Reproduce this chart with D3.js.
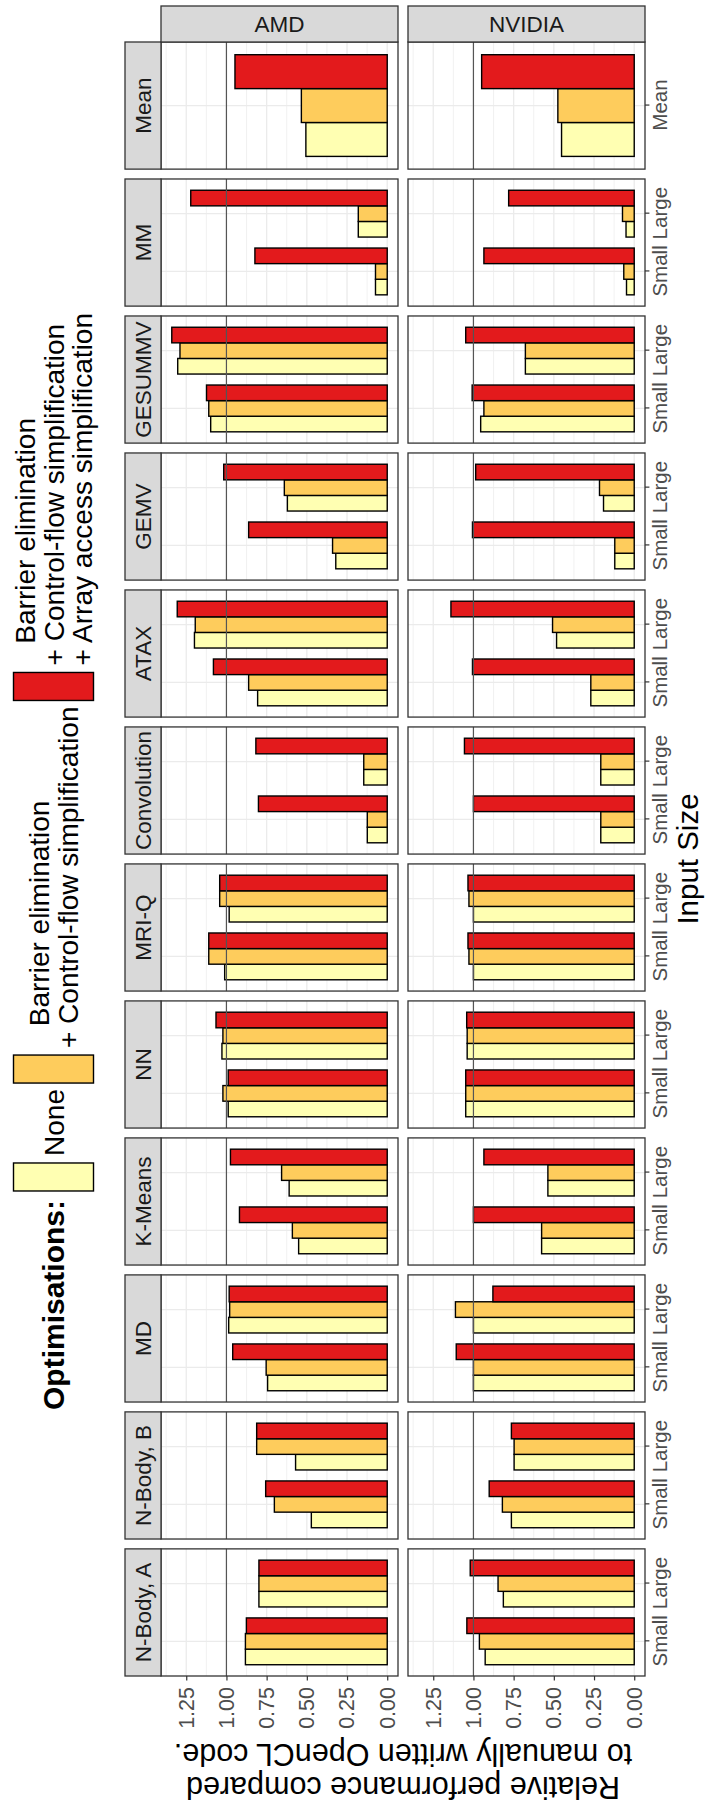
<!DOCTYPE html>
<html>
<head>
<meta charset="utf-8">
<script src="https://cdn.jsdelivr.net/npm/d3@7"></script>
<style>
  body { margin: 0; background: #ffffff; }
  text { font-family: "Liberation Sans", Arial, Helvetica, sans-serif; }
</style>
</head>
<body>
<svg id="chart" width="709" height="1805"></svg>
<script>
// ---------------- data ----------------
const benchmarks = ["N-Body, A", "N-Body, B", "MD", "K-Means", "NN", "MRI-Q",
  "Convolution", "ATAX", "GEMV", "GESUMMV", "MM", "Mean"];
const inputSizes = ["Small", "Large"];
const meanCategory = ["Mean"];
const platforms = ["AMD", "NVIDIA"];
const optimisationLabels = [
  ["None"],
  ["Barrier elimination", "+ Control-flow simplification"],
  ["Barrier elimination", "+ Control-flow simplification", "+ Array access simplification"]
];
const optimisationColours = ["#FFFFB2", "#FECC5C", "#E31A1C"];
const yTickValues = [0, 0.25, 0.5, 0.75, 1, 1.25];
const yTickLabels = ["0.00", "0.25", "0.50", "0.75", "1.00", "1.25"];
const referenceValue = 1;

// values per benchmark: [Small, Large] (Mean: [Mean])
const amdNone = [[0.882,0.798],[0.472,0.570],[0.744,0.986],[0.551,0.610],[0.989,1.028],[1.011,0.983],
  [0.124,0.146],[0.806,1.199],[0.320,0.621],[1.098,1.303],[0.073,0.180],[0.506]];
const amdCF = [[0.882,0.798],[0.702,0.812],[0.753,0.980],[0.590,0.657],[1.022,1.022],[1.110,1.042],
  [0.124,0.146],[0.862,1.194],[0.340,0.640],[1.110,1.289],[0.073,0.180],[0.534]];
const amdAA = [[0.876,0.798],[0.756,0.812],[0.961,0.983],[0.919,0.975],[0.989,1.065],[1.110,1.042],
  [0.801,0.817],[1.081,1.306],[0.862,1.017],[1.124,1.340],[0.823,1.222],[0.947]];
const nvNone = [[0.927,0.814],[0.764,0.747],[1.000,1.000],[0.576,0.537],[1.048,1.039],[1.000,1.000],
  [0.208,0.208],[0.270,0.483],[0.121,0.191],[0.955,0.677],[0.048,0.051],[0.452]];
const nvCF = [[0.963,0.847],[0.820,0.747],[1.000,1.112],[0.576,0.537],[1.048,1.039],[1.028,1.028],
  [0.208,0.208],[0.270,0.508],[0.121,0.216],[0.935,0.677],[0.065,0.073],[0.475]];
const nvAA = [[1.041,1.020],[0.902,0.764],[1.107,0.879],[1.000,0.935],[1.048,1.042],[1.034,1.034],
  [1.000,1.056],[1.006,1.140],[1.006,0.986],[1.008,1.048],[0.935,0.781],[0.949]];

const series = [[amdNone, amdCF, amdAA], [nvNone, nvCF, nvAA]];

// ---------------- layout (drawn landscape, then rotated) ----------------
const W = 1805, H = 709;
const panelLeft = 129, panelRight = 1763, gapX = 9.87;
const nCols = benchmarks.length;
const panelW = (panelRight - panelLeft - (nCols - 1) * gapX) / nCols;
const rows = [[161, 398], [408, 645]];
const stripTop = [125, 161];
const stripRight = [1763, 1799];

const GRID = "#EBEBEB", BORDER = "#333333", STRIP = "#D9D9D9";
const AXIS_TEXT = "#4D4D4D";

const svg = d3.select("#chart");
svg.append("rect").attr("width", 709).attr("height", 1805).attr("fill", "#fff");
const g = svg.append("g").attr("transform", `translate(0,${W}) rotate(-90)`);

const yMax = d3.max(series.flat(3));
const yDomain = [-0.05 * yMax, 1.05 * yMax];
const minorTicks = [];
for (let i = 0; i < yTickValues.length; i++) {
  const m = yTickValues[i] + 0.125;
  if (m < yDomain[1]) minorTicks.push(m);
}

for (let r = 0; r < platforms.length; r++) {
  const yScale = d3.scaleLinear().domain(yDomain).range([rows[r][1], rows[r][0]]);
  for (let c = 0; c < nCols; c++) {
    const px0 = panelLeft + c * (panelW + gapX);
    const cats = c === nCols - 1 ? meanCategory : inputSizes;
    const xScale = d3.scaleLinear().domain([0.4, cats.length + 0.6]).range([px0, px0 + panelW]);
    const groupW = cats.length === 1 ? 0.96 : 0.81;
    const pg = g.append("g");

    pg.append("rect").attr("x", px0).attr("y", rows[r][0])
      .attr("width", panelW).attr("height", rows[r][1] - rows[r][0]).attr("fill", "#fff");

    // minor grid
    pg.selectAll(".mn").data(minorTicks).enter().append("line")
      .attr("x1", px0).attr("x2", px0 + panelW)
      .attr("y1", d => yScale(d)).attr("y2", d => yScale(d))
      .attr("stroke", GRID).attr("stroke-width", 0.7);
    // major grid
    pg.selectAll(".mj").data(yTickValues).enter().append("line")
      .attr("x1", px0).attr("x2", px0 + panelW)
      .attr("y1", d => yScale(d)).attr("y2", d => yScale(d))
      .attr("stroke", GRID).attr("stroke-width", 1.3);
    pg.selectAll(".cg").data(cats).enter().append("line")
      .attr("x1", (d, i) => xScale(i + 1)).attr("x2", (d, i) => xScale(i + 1))
      .attr("y1", rows[r][0]).attr("y2", rows[r][1])
      .attr("stroke", GRID).attr("stroke-width", 1.3);

    // bars
    const barData = [];
    cats.forEach((cat, ci) => {
      for (let o = 0; o < 3; o++) {
        barData.push({ pos: ci + 1 - groupW / 2 + o * groupW / 3, v: series[r][o][c][ci], o });
      }
    });
    pg.selectAll(".bar").data(barData).enter().append("rect")
      .attr("x", d => xScale(d.pos))
      .attr("width", xScale(groupW / 3) - xScale(0))
      .attr("y", d => yScale(d.v))
      .attr("height", d => yScale(0) - yScale(d.v))
      .attr("fill", d => optimisationColours[d.o])
      .attr("stroke", "#000").attr("stroke-width", 1.4);

    // reference line
    pg.append("line").attr("x1", px0).attr("x2", px0 + panelW)
      .attr("y1", yScale(referenceValue)).attr("y2", yScale(referenceValue))
      .attr("stroke", "#555555").attr("stroke-width", 1.2);

    // border
    pg.append("rect").attr("x", px0).attr("y", rows[r][0])
      .attr("width", panelW).attr("height", rows[r][1] - rows[r][0])
      .attr("fill", "none").attr("stroke", BORDER).attr("stroke-width", 1.3);

    // top strip (benchmark)
    if (r === 0) {
      g.append("rect").attr("x", px0).attr("y", stripTop[0])
        .attr("width", panelW).attr("height", stripTop[1] - stripTop[0])
        .attr("fill", STRIP).attr("stroke", BORDER).attr("stroke-width", 1.3);
      g.append("text").attr("x", px0 + panelW / 2).attr("y", (stripTop[0] + stripTop[1]) / 2)
        .attr("dy", "0.36em").attr("text-anchor", "middle")
        .attr("font-size", 22.5).attr("fill", "#1A1A1A").text(benchmarks[c]);
    }

    // x axis (bottom row)
    if (r === platforms.length - 1) {
      const ax = d3.axisBottom(xScale)
        .tickValues(cats.map((d, i) => i + 1))
        .tickFormat((d) => cats[d - 1])
        .tickSize(4.4).tickPadding(3);
      const axg = g.append("g").attr("transform", `translate(0,${rows[r][1]})`).call(ax);
      axg.select(".domain").remove();
      axg.selectAll("line").attr("stroke", BORDER).attr("stroke-width", 1.2);
      axg.selectAll("text").attr("font-size", 20.5).attr("fill", AXIS_TEXT)
        .attr("font-family", '"Liberation Sans", Arial, sans-serif');
    }

    // y axis (first column)
    if (c === 0) {
      const ay = d3.axisLeft(yScale).tickValues(yTickValues)
        .tickFormat((d, i) => yTickLabels[i]).tickSize(4.4).tickPadding(6.6);
      const ayg = g.append("g").attr("transform", `translate(${px0},0)`).call(ay);
      ayg.select(".domain").remove();
      ayg.selectAll("line").attr("stroke", BORDER).attr("stroke-width", 1.2);
      ayg.selectAll("text").attr("font-size", 21.5).attr("fill", AXIS_TEXT)
        .attr("font-family", '"Liberation Sans", Arial, sans-serif');
    }
  }

  // right strip (platform)
  g.append("rect").attr("x", stripRight[0]).attr("y", rows[r][0])
    .attr("width", stripRight[1] - stripRight[0]).attr("height", rows[r][1] - rows[r][0])
    .attr("fill", STRIP).attr("stroke", BORDER).attr("stroke-width", 1.3);
  const cx = (stripRight[0] + stripRight[1]) / 2, cy = (rows[r][0] + rows[r][1]) / 2;
  g.append("text").attr("transform", `translate(${cx},${cy}) rotate(90)`)
    .attr("dy", "0.36em").attr("text-anchor", "middle")
    .attr("font-size", 22.5).attr("fill", "#1A1A1A").text(platforms[r]);
}

// axis titles
g.append("text").attr("x", (panelLeft + panelRight) / 2).attr("y", 698)
  .attr("text-anchor", "middle").attr("font-size", 29.5).attr("fill", "#000").text("Input Size");
const yTitle = ["Relative performance compared", "to manually written OpenCL code."];
const yTitleX = [20, 53];
const yMid = (rows[0][0] + rows[1][1]) / 2;
yTitle.forEach((t, i) => {
  g.append("text").attr("transform", `translate(${yTitleX[i]},${yMid}) rotate(-90)`)
    .attr("dy", "0.27em").attr("text-anchor", "middle")
    .attr("font-size", 30.5).attr("fill", "#000").text(t);
});

// legend
const legendCentre = 53.5, keyW = 28, keyH = 80, legFs = 28, lineH = 28.5;
let lx = 395;
const title = g.append("text").attr("x", lx).attr("y", 63.5)
  .attr("font-size", 30).attr("font-weight", "bold").attr("fill", "#000").text("Optimisations:");
lx += title.node().getComputedTextLength() + 9;
optimisationLabels.forEach((lines, k) => {
  g.append("rect").attr("x", lx).attr("y", legendCentre - keyH / 2)
    .attr("width", keyW).attr("height", keyH)
    .attr("fill", optimisationColours[k]).attr("stroke", "#000").attr("stroke-width", 1.4);
  lx += keyW + 7;
  let maxW = 0;
  const n = lines.length;
  lines.forEach((line, li) => {
    const indent = (n > 1 && li === 0) ? 0.78 * legFs : 0;
    const t = g.append("text").attr("x", lx + indent)
      .attr("y", legendCentre + (li - (n - 1) / 2) * lineH + 0.36 * legFs)
      .attr("font-size", legFs).attr("fill", "#000").text(line);
    maxW = Math.max(maxW, indent + t.node().getComputedTextLength());
  });
  lx += maxW + 6;
});
</script>
</body>
</html>
